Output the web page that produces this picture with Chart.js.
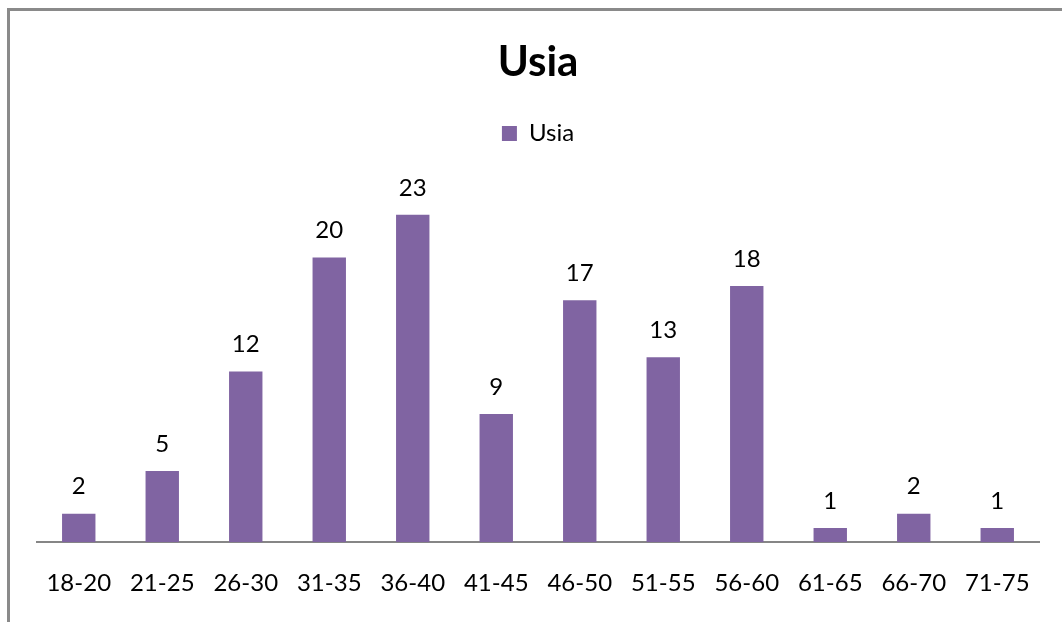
<!DOCTYPE html>
<html>
<head>
<meta charset="utf-8">
<script src="https://cdn.jsdelivr.net/npm/chart.js@4/dist/chart.umd.min.js"></script>
<style>
  body { margin: 0; background: #fff; }
  #wrap { position: relative; width: 1062px; height: 622px; overflow: hidden; }
  #frame { position: absolute; left: 7px; top: 8px; width: 1100px; height: 700px; border: 3px solid #8a8a8a; }
  canvas { position: absolute; left: 0; top: 0; }
</style>
</head>
<body>
<div id="wrap">
  <div id="frame"></div>
  <canvas id="usia" width="1062" height="622"></canvas>
</div>
<script>
// age groups and counts
const ageGroups = ['18-20', '21-25', '26-30', '31-35', '36-40', '41-45', '46-50', '51-55', '56-60', '61-65', '66-70', '71-75'];
const counts = [2, 5, 12, 20, 23, 9, 17, 13, 18, 1, 2, 1];
const seriesName = 'Usia';

const fontFamily = 'Lato, "Open Sans", sans-serif';

// draws the numbers above each bar
const barLabels = {
    id: 'barLabels',
    afterDatasetsDraw(chart) {
        const ctx = chart.ctx;
        ctx.save();
        ctx.font = '24px ' + fontFamily;
        ctx.fillStyle = '#000';
        ctx.textAlign = 'center';
        ctx.textBaseline = 'middle';
        chart.getDatasetMeta(0).data.forEach(function (bar, i) {
            ctx.fillText(String(counts[i]), bar.x, bar.y - 27);
        });
        ctx.restore();
    }
};

// extra room under the legend
const legendGap = {
    id: 'legendGap',
    beforeInit(chart) {
        const fit = chart.legend.fit;
        chart.legend.fit = function () {
            fit.bind(chart.legend)();
            this.height += 31;
        };
    }
};

const ctx = document.getElementById('usia').getContext('2d');
const myChart = new Chart(ctx, {
    type: 'bar',
    data: {
        labels: ageGroups,
        datasets: [{
            label: seriesName,
            data: counts,
            backgroundColor: '#8064A2',
            borderWidth: 0,
            categoryPercentage: 1,
            barPercentage: 0.4
        }]
    },
    options: {
        responsive: false,
        animation: false,
        layout: {
            padding: { left: 37, right: 23, top: 0, bottom: -3 }
        },
        plugins: {
            title: {
                display: true,
                text: 'Usia',
                color: '#000',
                font: { family: fontFamily, size: 42, weight: 'bold' },
                padding: { top: 37, bottom: 14 }
            },
            legend: {
                display: true,
                labels: {
                    color: '#000',
                    font: { family: fontFamily, size: 24 },
                    boxWidth: 15,
                    boxHeight: 15,
                    padding: 20
                }
            },
            tooltip: { enabled: false }
        },
        scales: {
            x: {
                grid: { display: false, drawTicks: false },
                border: { display: true, color: '#868686', width: 2 },
                ticks: {
                    color: '#000',
                    font: { family: fontFamily, size: 24 },
                    padding: 27,
                    maxRotation: 0
                }
            },
            y: {
                display: false,
                min: 0,
                max: 25
            }
        }
    },
    plugins: [barLabels, legendGap]
});
</script>
</body>
</html>
